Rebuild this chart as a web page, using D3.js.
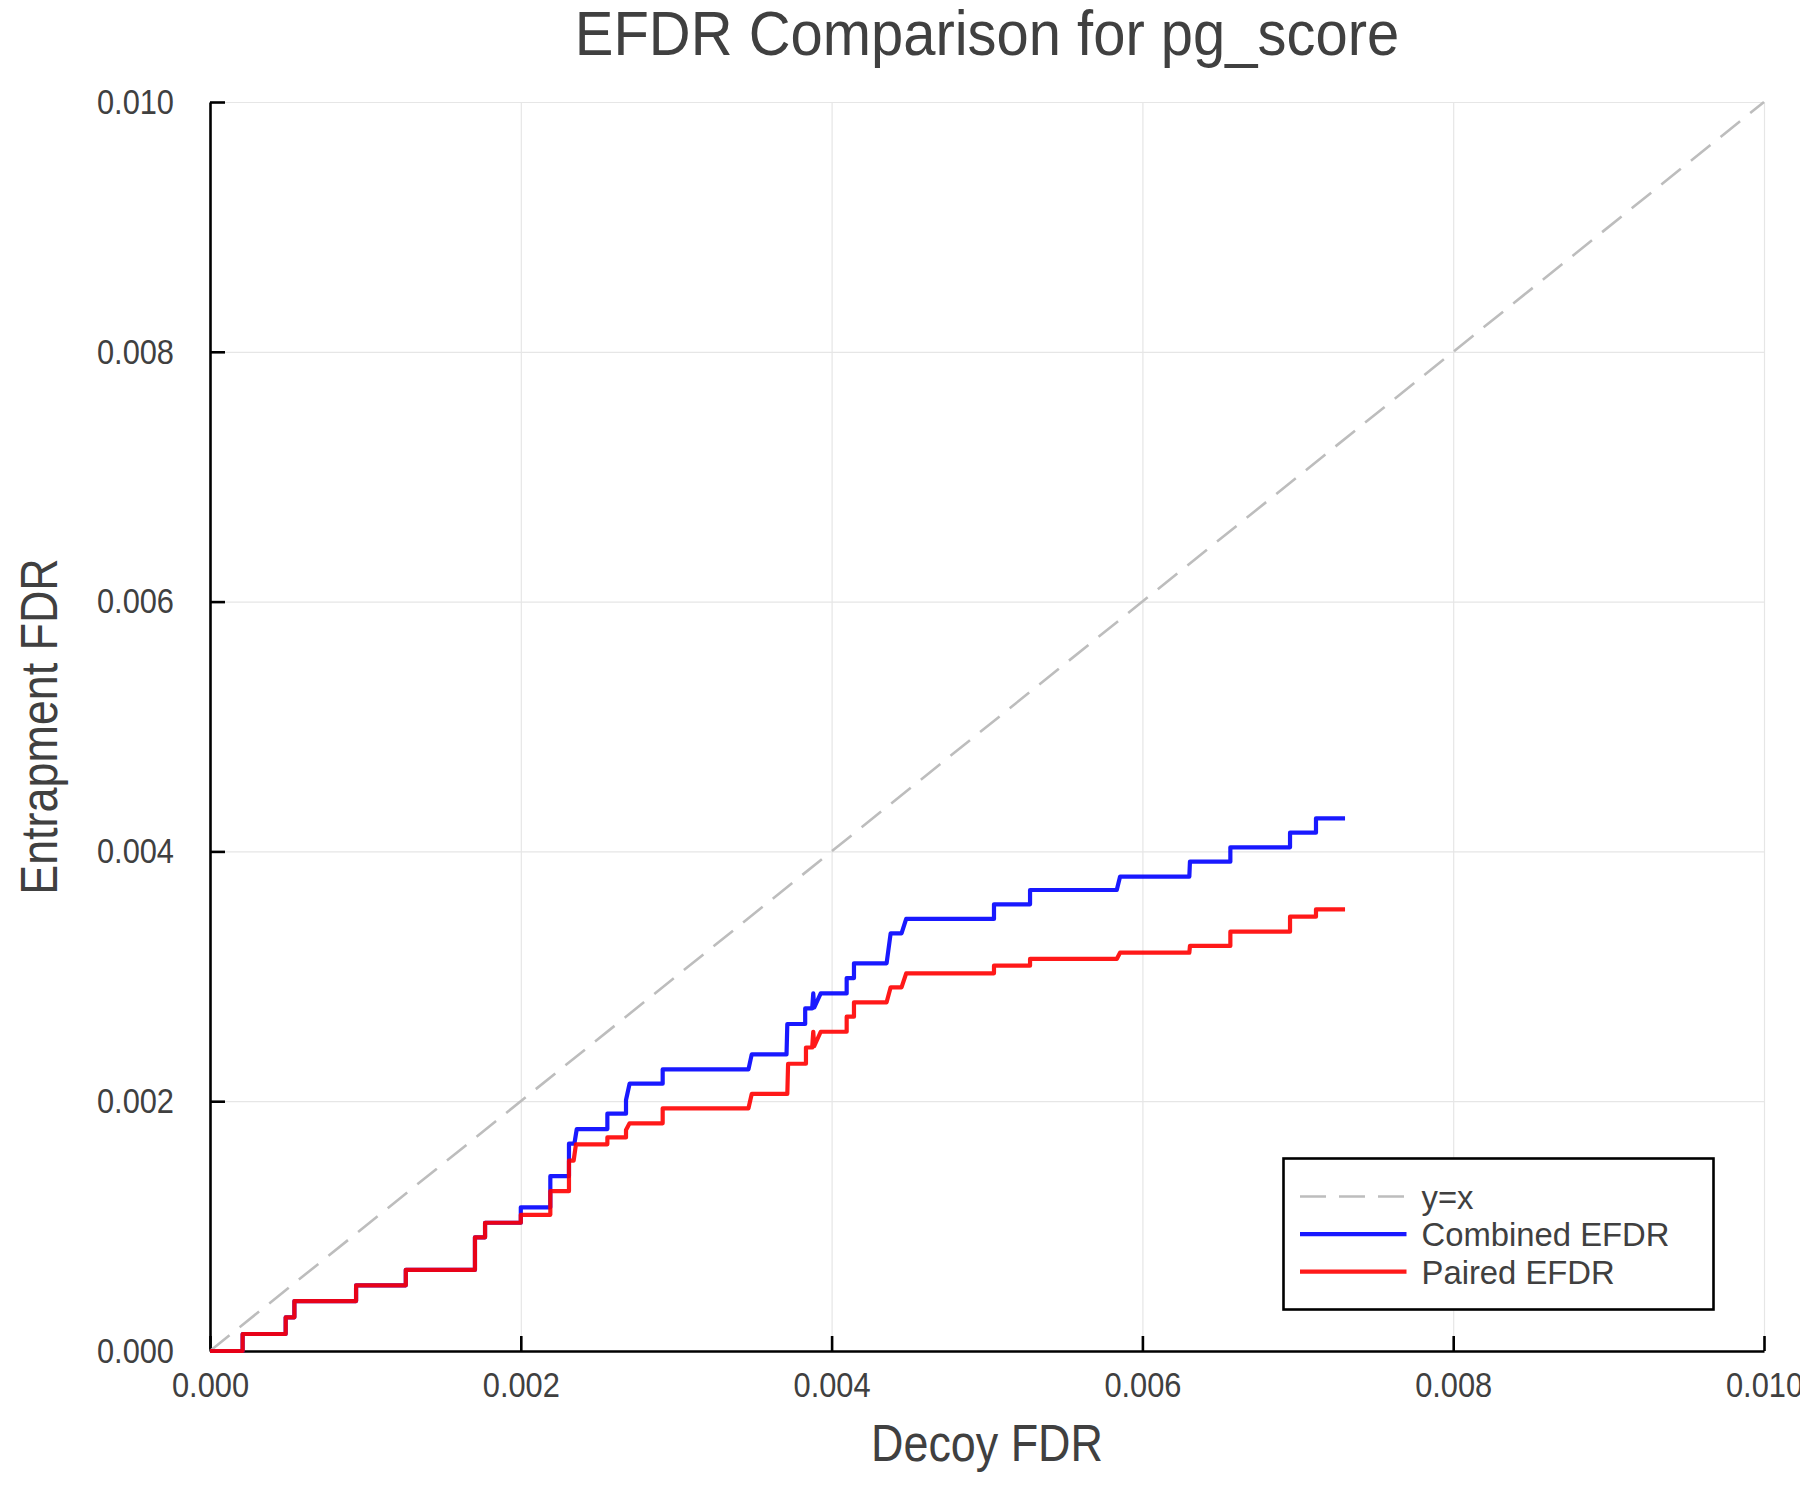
<!DOCTYPE html>
<html>
<head>
<meta charset="utf-8">
<script src="https://cdn.jsdelivr.net/npm/d3@7"></script>
<style>
  body { margin: 0; background: #fff; }
  text { font-family: "Liberation Sans", Arial, sans-serif; fill: #404040; }
</style>
</head>
<body>
<script>
// values (Decoy FDR vs Entrapment FDR)
const xTicks = [0, 0.002, 0.004, 0.006, 0.008, 0.010];
const yTicks = [0, 0.002, 0.004, 0.006, 0.008, 0.010];

const diagX = [0, 0.010];
const diagY = [0, 0.010];

const combinedX = [0, 0.00021, 0.00021, 0.000487, 0.000487, 0.000543, 0.000543, 0.00094, 0.00094,
    0.00126, 0.00126, 0.001705, 0.001705, 0.00177, 0.00177, 0.002, 0.002, 0.00219, 0.00219,
    0.00231, 0.00231, 0.002345, 0.00236, 0.002557, 0.002557, 0.002677, 0.002677, 0.0027,
    0.002913, 0.002913, 0.003465, 0.003486, 0.00371, 0.003715, 0.00383, 0.00383, 0.003875,
    0.003882, 0.003888, 0.00393, 0.004097, 0.004097, 0.004144, 0.004144, 0.004354, 0.00438,
    0.00445, 0.00448, 0.005045, 0.005045, 0.005277, 0.005277, 0.005835, 0.005856, 0.006302,
    0.006306, 0.006566, 0.006566, 0.00695, 0.00695, 0.007117, 0.007117, 0.007304];
const combinedY = [0, 0, 0.000136, 0.000136, 0.00027, 0.00027, 0.0004, 0.0004, 0.000526,
    0.000526, 0.00065, 0.00065, 0.00091, 0.00091, 0.001027, 0.001027, 0.00115, 0.00115, 0.0014,
    0.0014, 0.00166, 0.00166, 0.001777, 0.001777, 0.0019, 0.0019, 0.00201, 0.00214,
    0.00214, 0.002255, 0.002255, 0.002375, 0.002375, 0.002618, 0.002618, 0.002743, 0.002743,
    0.002863, 0.00275, 0.002863, 0.002863, 0.002986, 0.002986, 0.003104, 0.003104, 0.003344,
    0.003344, 0.003459, 0.003459, 0.003576, 0.003576, 0.003691, 0.003691, 0.003798, 0.003798,
    0.003918, 0.003918, 0.004033, 0.004033, 0.00415, 0.00415, 0.004265, 0.004265];

const pairedX = [0, 0.00021, 0.00021, 0.000487, 0.000487, 0.000543, 0.000543, 0.00094, 0.00094,
    0.00126, 0.00126, 0.001705, 0.001705, 0.00177, 0.00177, 0.002, 0.002, 0.00219, 0.00219,
    0.00231, 0.00231, 0.00234, 0.002355, 0.002557, 0.002557, 0.002677, 0.002677, 0.0027,
    0.002913, 0.002913, 0.003465, 0.003486, 0.003715, 0.00372, 0.003835, 0.003835, 0.003875,
    0.003882, 0.003888, 0.00393, 0.004097, 0.004097, 0.004144, 0.004144, 0.004354, 0.00438,
    0.00445, 0.00448, 0.005045, 0.005045, 0.005277, 0.005277, 0.005835, 0.005856, 0.006302,
    0.006306, 0.006566, 0.006566, 0.00695, 0.00695, 0.007117, 0.007117, 0.007304];
const pairedY = [0, 0, 0.000136, 0.000136, 0.00027, 0.00027, 0.0004, 0.0004, 0.000526,
    0.000526, 0.00065, 0.00065, 0.00091, 0.00091, 0.001027, 0.001027, 0.00109, 0.00109, 0.00128,
    0.00128, 0.001524, 0.001524, 0.001655, 0.001655, 0.00171, 0.00171, 0.00177, 0.001823,
    0.001823, 0.001943, 0.001943, 0.002058, 0.002058, 0.0023, 0.0023, 0.00243, 0.00243,
    0.002556, 0.00244, 0.002556, 0.002556, 0.002677, 0.002677, 0.002792, 0.002792, 0.002912,
    0.002912, 0.003024, 0.003024, 0.003085, 0.003085, 0.003139, 0.003139, 0.003189, 0.003189,
    0.003243, 0.003243, 0.003357, 0.003357, 0.003477, 0.003477, 0.003536, 0.003536];

const seriesNames = ["y=x", "Combined EFDR", "Paired EFDR"];
const seriesColors = ["#bdbdbd", "#0000ff", "#ff0000"];

const width = 1800, height = 1500;
const plotLeft = 210, plotRight = 1764, plotTop = 102, plotBottom = 1351;

const svg = d3.select("body").append("svg")
    .attr("width", width)
    .attr("height", height);

const x = d3.scaleLinear().domain([0, 0.010]).range([plotLeft, plotRight]);
const y = d3.scaleLinear().domain([0, 0.010]).range([plotBottom, plotTop]);
const fmt = d3.format(".3f");

// grid
svg.append("g")
    .attr("transform", "translate(0," + plotBottom + ")")
    .call(d3.axisBottom(x).tickValues(xTicks).tickSize(-(plotBottom - plotTop)).tickFormat(""))
    .call(g => g.select(".domain").remove())
    .selectAll("line").attr("stroke", "#e6e6e6").attr("stroke-width", 1.2);
svg.append("g")
    .attr("transform", "translate(" + plotLeft + ",0)")
    .call(d3.axisLeft(y).tickValues(yTicks).tickSize(-(plotRight - plotLeft)).tickFormat(""))
    .call(g => g.select(".domain").remove())
    .selectAll("line").attr("stroke", "#e6e6e6").attr("stroke-width", 1.2);

// axes, ticks pointing inward
const tickScale = 0.88;
const xAxis = svg.append("g")
    .attr("transform", "translate(0," + plotBottom + ")")
    .call(d3.axisBottom(x).tickValues(xTicks).tickFormat(fmt).tickSizeInner(-15).tickSizeOuter(0).tickPadding(21));
const yAxis = svg.append("g")
    .attr("transform", "translate(" + plotLeft + ",0)")
    .call(d3.axisLeft(y).tickValues(yTicks).tickFormat(fmt).tickSizeInner(-15).tickSizeOuter(0));

[xAxis, yAxis].forEach(a => {
    a.select(".domain").attr("stroke", "#000").attr("stroke-width", 2.6);
    a.selectAll(".tick line").attr("stroke", "#000").attr("stroke-width", 2.6);
    a.selectAll(".tick text")
        .style("font-family", "'Liberation Sans', Arial, sans-serif")
        .style("font-size", "35px")
        .attr("fill", "#404040");
});
xAxis.selectAll(".tick text").attr("transform", "scale(" + tickScale + ",1)");
yAxis.selectAll(".tick text")
    .attr("x", -36 / tickScale)
    .attr("transform", "scale(" + tickScale + ",1)");

// lines
const line = d3.line().x(d => x(d[0])).y(d => y(d[1])).curve(d3.curveLinear);

svg.append("path")
    .datum(d3.zip(diagX, diagY))
    .attr("d", line)
    .attr("fill", "none")
    .attr("stroke", seriesColors[0])
    .attr("stroke-width", 2.6)
    .attr("stroke-dasharray", "25,13");

svg.append("path")
    .datum(d3.zip(combinedX, combinedY))
    .attr("d", line)
    .attr("fill", "none")
    .attr("stroke", seriesColors[1])
    .attr("stroke-opacity", 0.9)
    .attr("stroke-width", 4.2)
    .attr("stroke-linejoin", "round");

svg.append("path")
    .datum(d3.zip(pairedX, pairedY))
    .attr("d", line)
    .attr("fill", "none")
    .attr("stroke", seriesColors[2])
    .attr("stroke-opacity", 0.9)
    .attr("stroke-width", 4.2)
    .attr("stroke-linejoin", "round");

// title and axis labels
svg.append("text")
    .attr("transform", "translate(" + (plotLeft + plotRight) / 2 + ",55) scale(0.92,1)")
    .attr("text-anchor", "middle")
    .style("font-size", "63px")
    .text("EFDR Comparison for pg_score");

svg.append("text")
    .attr("transform", "translate(" + (plotLeft + plotRight) / 2 + ",1461) scale(0.88,1)")
    .attr("text-anchor", "middle")
    .style("font-size", "51px")
    .text("Decoy FDR");

svg.append("text")
    .attr("transform", "translate(57," + (plotTop + plotBottom) / 2 + ") rotate(-90) scale(0.88,1)")
    .attr("text-anchor", "middle")
    .style("font-size", "51px")
    .text("Entrapment FDR");

// legend
const legend = svg.append("g").attr("transform", "translate(1283.5,1158.5)");
legend.append("rect")
    .attr("width", 430)
    .attr("height", 151)
    .attr("fill", "#fff")
    .attr("stroke", "#000")
    .attr("stroke-width", 2.6);

seriesNames.forEach((name, i) => {
    const yy = 38 + i * 37.6;
    legend.append("line")
        .attr("x1", 16.5).attr("x2", 123)
        .attr("y1", yy).attr("y2", yy)
        .attr("stroke", seriesColors[i])
        .attr("stroke-opacity", i === 0 ? 1 : 0.9)
        .attr("stroke-width", i === 0 ? 2.6 : 4.2)
        .attr("stroke-dasharray", i === 0 ? "26,13" : null);
    legend.append("text")
        .attr("transform", "translate(138," + yy + ") scale(0.965,1)")
        .attr("dy", "0.36em")
        .style("font-size", "34px")
        .text(name);
});
</script>
</body>
</html>
